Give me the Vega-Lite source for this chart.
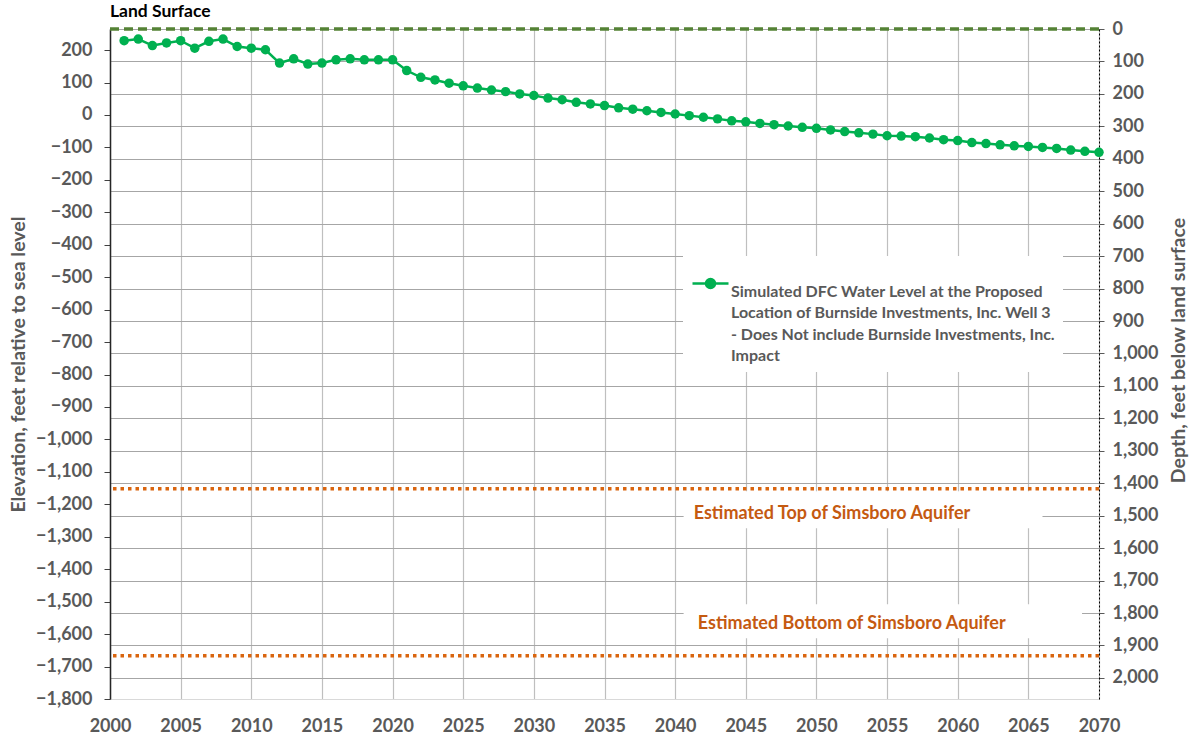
{
  "$schema": "https://vega.github.io/schema/vega-lite/v6.json",
  "width": 989,
  "height": 670,
  "autosize": {"type": "none"},
  "padding": {"left": 110, "top": 29, "right": 95, "bottom": 41},
  "background": "white",
  "title": {"text": "Land Surface", "anchor": "start", "frame": "group", "fontSize": 17.5, "fontWeight": "bold", "color": "#000000", "font": "Lato", "offset": 0},
  "config": {
    "font": "Lato",
    "view": {"stroke": null},
    "axis": {"labelFont": "Lato", "labelFontSize": 18, "labelFontWeight": "bold", "labelColor": "#595959", "titleFont": "Lato", "titleFontSize": 19.5, "titleFontWeight": "bold", "titleColor": "#595959"},
    "style": {"guide-label": {"lineHeight": 21.5}}
  },
  "datasets": {
    "water": [
      {"year": 2001, "elev": 229}, {"year": 2002, "elev": 234}, {"year": 2003, "elev": 214}, {"year": 2004, "elev": 222}, {"year": 2005, "elev": 229},
      {"year": 2006, "elev": 206}, {"year": 2007, "elev": 227}, {"year": 2008, "elev": 234}, {"year": 2009, "elev": 211}, {"year": 2010, "elev": 206},
      {"year": 2011, "elev": 201}, {"year": 2012, "elev": 160}, {"year": 2013, "elev": 173}, {"year": 2014, "elev": 157}, {"year": 2015, "elev": 160},
      {"year": 2016, "elev": 170}, {"year": 2017, "elev": 173}, {"year": 2018, "elev": 170}, {"year": 2019, "elev": 170}, {"year": 2020, "elev": 170},
      {"year": 2021, "elev": 137}, {"year": 2022, "elev": 116}, {"year": 2023, "elev": 108}, {"year": 2024, "elev": 98}, {"year": 2025, "elev": 90},
      {"year": 2026, "elev": 83}, {"year": 2027, "elev": 77}, {"year": 2028, "elev": 72}, {"year": 2029, "elev": 65}, {"year": 2030, "elev": 60},
      {"year": 2031, "elev": 52}, {"year": 2032, "elev": 47}, {"year": 2033, "elev": 39}, {"year": 2034, "elev": 34}, {"year": 2035, "elev": 29},
      {"year": 2036, "elev": 22}, {"year": 2037, "elev": 18}, {"year": 2038, "elev": 13}, {"year": 2039, "elev": 8}, {"year": 2040, "elev": 3},
      {"year": 2041, "elev": -2}, {"year": 2042, "elev": -7}, {"year": 2043, "elev": -12}, {"year": 2044, "elev": -18}, {"year": 2045, "elev": -21},
      {"year": 2046, "elev": -26}, {"year": 2047, "elev": -30}, {"year": 2048, "elev": -34}, {"year": 2049, "elev": -38}, {"year": 2050, "elev": -41},
      {"year": 2051, "elev": -46}, {"year": 2052, "elev": -51}, {"year": 2053, "elev": -55}, {"year": 2054, "elev": -59}, {"year": 2055, "elev": -64},
      {"year": 2056, "elev": -65}, {"year": 2057, "elev": -67}, {"year": 2058, "elev": -71}, {"year": 2059, "elev": -76}, {"year": 2060, "elev": -79},
      {"year": 2061, "elev": -85}, {"year": 2062, "elev": -88}, {"year": 2063, "elev": -92}, {"year": 2064, "elev": -95}, {"year": 2065, "elev": -97},
      {"year": 2066, "elev": -100}, {"year": 2067, "elev": -103}, {"year": 2068, "elev": -108}, {"year": 2069, "elev": -112}, {"year": 2070, "elev": -115}
    ],
    "land": [{"name": "Land Surface", "depth": 0}],
    "simsboro": [{"name": "Estimated Top of Simsboro Aquifer", "depth": 1417}, {"name": "Estimated Bottom of Simsboro Aquifer", "depth": 1932}],
    "labels": [
      {"label": "Estimated Top of Simsboro Aquifer", "year": 2051.1, "elev": -1231},
      {"label": "Estimated Bottom of Simsboro Aquifer", "year": 2052.5, "elev": -1570}
    ],
    "boxes": [
      {"x1": 2040.6, "x2": 2066, "y1": -1160, "y2": -1274},
      {"x1": 2040.6, "x2": 2068.8, "y1": -1508, "y2": -1613}
    ]
  },
  "layer": [
    {
      "data": {"name": "boxes"},
      "mark": {"type": "rect", "fill": "white"},
      "encoding": {
        "x": {"field": "x1", "type": "quantitative", "scale": {"domain": [2000, 2070], "nice": false, "zero": false}},
        "x2": {"field": "x2"},
        "y": {"field": "y1", "type": "quantitative", "scale": {"domain": [-1800, 265], "nice": false, "zero": false}, "axis": null},
        "y2": {"field": "y2"}
      }
    },
    {
      "layer": [
        {
          "data": {"name": "land"},
          "mark": {"type": "rule", "color": "#548235", "strokeWidth": 3.5, "strokeDash": [9, 5]},
          "encoding": {}
        },
        {
          "data": {"name": "simsboro"},
          "mark": {"type": "rule", "color": "#D9650F", "strokeWidth": 3.5, "strokeDash": [3.5, 4]},
          "encoding": {}
        }
      ],
      "encoding": {
        "y": {
          "field": "depth", "type": "quantitative",
          "scale": {"domain": [0, 2065], "reverse": true, "nice": false, "zero": false},
          "axis": {
            "orient": "right", "title": "Depth, feet below land surface", "titleAngle": 270, "titleBaseline": "top", "titlePadding": 12, "titleY": 321,
            "values": [0, 100, 200, 300, 400, 500, 600, 700, 800, 900, 1000, 1100, 1200, 1300, 1400, 1500, 1600, 1700, 1800, 1900, 2000],
            "format": ",.0f", "grid": true, "gridColor": "#A6A6A6", "gridWidth": 1.2,
            "domainColor": "#000000", "domainDash": [2, 2], "domainWidth": 1,
            "tickColor": "#595959", "tickSize": 5, "labelPadding": 8, "labelOverlap": false, "labelBaseline": "middle"
          }
        }
      }
    },
    {
      "data": {"name": "labels"},
      "mark": {"type": "text", "color": "#C55A11", "fontSize": 18, "fontWeight": "bold", "font": "Lato", "align": "center", "baseline": "middle"},
      "encoding": {
        "x": {"field": "year", "type": "quantitative", "scale": {"domain": [2000, 2070], "nice": false, "zero": false}},
        "y": {"field": "elev", "type": "quantitative", "scale": {"domain": [-1800, 265], "nice": false, "zero": false}, "axis": null},
        "text": {"field": "label"}
      }
    },
    {
      "data": {"name": "water"},
      "mark": {"type": "line", "strokeWidth": 2.5, "point": {"filled": true, "size": 90}},
      "encoding": {
        "x": {
          "field": "year", "type": "quantitative",
          "scale": {"domain": [2000, 2070], "nice": false, "zero": false},
          "axis": {
            "title": null, "values": [2000, 2005, 2010, 2015, 2020, 2025, 2030, 2035, 2040, 2045, 2050, 2055, 2060, 2065, 2070],
            "format": "d", "grid": true, "gridColor": "#BFBFBF", "gridWidth": 1.2,
            "domainColor": "#D9D9D9", "ticks": false, "labelPadding": 18, "labelFlush": false, "labelOverlap": false
          }
        },
        "y": {
          "field": "elev", "type": "quantitative",
          "scale": {"domain": [-1800, 265], "nice": false, "zero": false},
          "axis": {
            "orient": "left", "title": "Elevation, feet relative to sea level", "titlePadding": 7,
            "values": [-1800, -1700, -1600, -1500, -1400, -1300, -1200, -1100, -1000, -900, -800, -700, -600, -500, -400, -300, -200, -100, 0, 100, 200],
            "format": ",.0f", "grid": false, "domainColor": "#262626", "domainWidth": 1.5,
            "tickColor": "#404040", "tickSize": 6, "labelPadding": 12, "labelOverlap": false
          }
        },
        "color": {
          "datum": "Simulated DFC Water Level",
          "type": "nominal",
          "scale": {"range": ["#00B050"]},
          "legend": {
            "title": null, "orient": "none", "legendX": 573, "legendY": 227,
            "fillColor": "white", "padding": 8,
            "labelExpr": "['Simulated DFC Water Level at the Proposed', 'Location of Burnside Investments, Inc. Well 3', '- Does Not include Burnside Investments, Inc.', 'Impact']",
            "labelFont": "Lato", "labelFontSize": 16, "labelFontWeight": "bold", "labelColor": "#595959", "labelLimit": 0, "labelBaseline": "top",
            "symbolType": "M-1,0H1M-0.25,0A0.25,0.25,0,1,1,0.25,0A0.25,0.25,0,1,1,-0.25,0Z",
            "symbolSize": 1296, "symbolStrokeWidth": 2.5, "symbolStrokeColor": "#00B050", "symbolFillColor": "#00B050", "labelOffset": 1
          }
        }
      }
    }
  ],
  "resolve": {"scale": {"y": "independent"}}
}
